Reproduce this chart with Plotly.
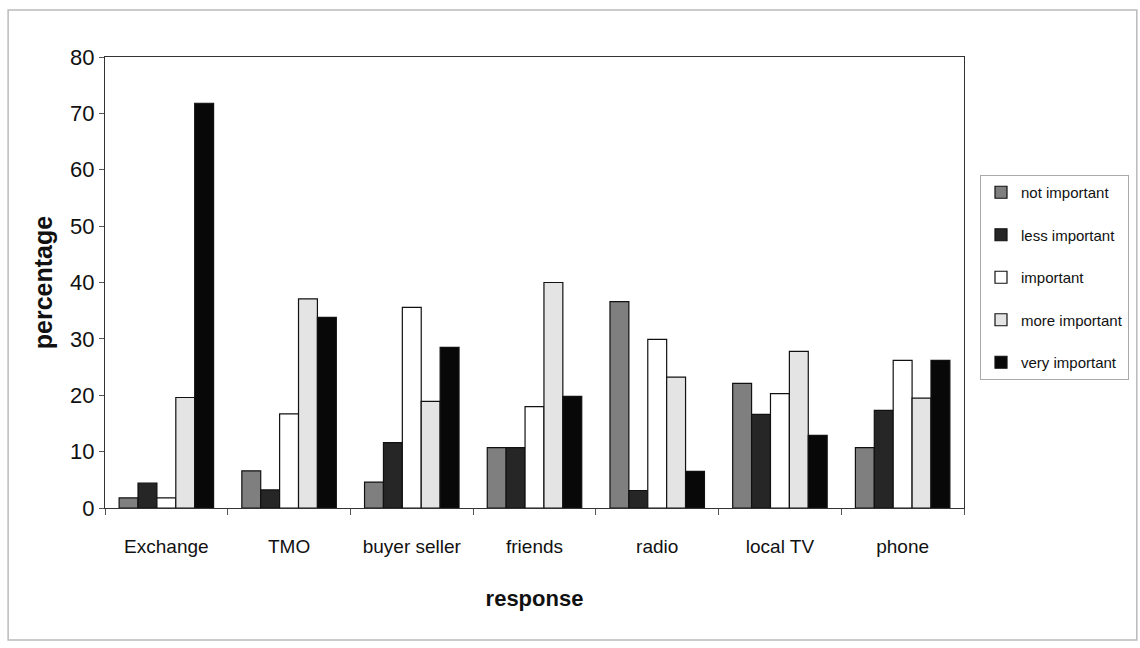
import plotly.graph_objects as go

categories = ["Exchange", "TMO", "buyer seller", "friends", "radio", "local TV", "phone"]
series_names = ["not important", "less important", "important", "more important", "very important"]

not_important = [1.8, 6.6, 4.6, 10.7, 36.6, 22.1, 10.7]
less_important = [4.4, 3.2, 11.6, 10.7, 3.1, 16.6, 17.3]
important = [1.8, 16.7, 35.6, 18.0, 29.9, 20.3, 26.2]
more_important = [19.6, 37.1, 18.9, 40.0, 23.2, 27.8, 19.5]
very_important = [71.8, 33.8, 28.5, 19.8, 6.5, 12.9, 26.2]

y_ticks = [0, 10, 20, 30, 40, 50, 60, 70, 80]

series_values = [not_important, less_important, important, more_important, very_important]
fill_colors = ["#7f7f7f", "#262626", "#ffffff", "#e4e4e4", "#080808"]

FONT = "Liberation Sans, Arial, sans-serif"

fig = go.Figure()
for i, (name, vals, col) in enumerate(zip(series_names, series_values, fill_colors)):
    fig.add_trace(go.Bar(
        x=categories, y=vals, name=name, legendgroup=f"g{i}",
        marker=dict(color=col, line=dict(color="#111111", width=1.2)),
    ))

W, H = 1140, 648
L, R, T, B = 105, 175, 57, 140
pw, ph = W - L - R, H - T - B

def px_x(x):
    return (x - L) / pw

def px_y(y):
    return (H - B - y) / ph

fig.update_layout(
    width=W, height=H,
    margin=dict(l=L, r=R, t=T, b=B),
    paper_bgcolor="white", plot_bgcolor="white",
    barmode="group", bargap=0.23, bargroupgap=0,
    font=dict(family=FONT, color="#111111"),
    xaxis=dict(
        showline=True, linecolor="#333333", linewidth=1.2, mirror=True,
        ticks="outside", tickson="boundaries", ticklen=6, tickcolor="#555555",
        tickfont=dict(size=19, family=FONT), showgrid=False, ticklabelstandoff=21,
        title=dict(text="<b>response</b>", font=dict(size=22, family=FONT), standoff=34),
    ),
    yaxis=dict(
        range=[0, 80], tickvals=y_ticks, showgrid=False, zeroline=False,
        showline=True, linecolor="#333333", linewidth=1.2, mirror=True,
        ticks="outside", ticklen=5, tickcolor="#555555",
        tickfont=dict(size=22, family=FONT),
        title=dict(text="<b>percentage</b>", font=dict(size=25, family=FONT), standoff=10),
    ),
    legend=dict(
        x=px_x(980), y=px_y(175), xanchor="left", yanchor="top",
        bordercolor="#aaaaaa", borderwidth=1, bgcolor="white",
        font=dict(size=15, family=FONT), traceorder="grouped", tracegroupgap=20,
        itemwidth=30,
    ),
    shapes=[dict(
        type="rect", xref="paper", yref="paper",
        x0=px_x(8), x1=px_x(1138), y0=px_y(640), y1=px_y(10),
        line=dict(color="#bbbbbb", width=1.5), fillcolor="rgba(0,0,0,0)", layer="below",
    )],
)

fig.write_html("out.html")
